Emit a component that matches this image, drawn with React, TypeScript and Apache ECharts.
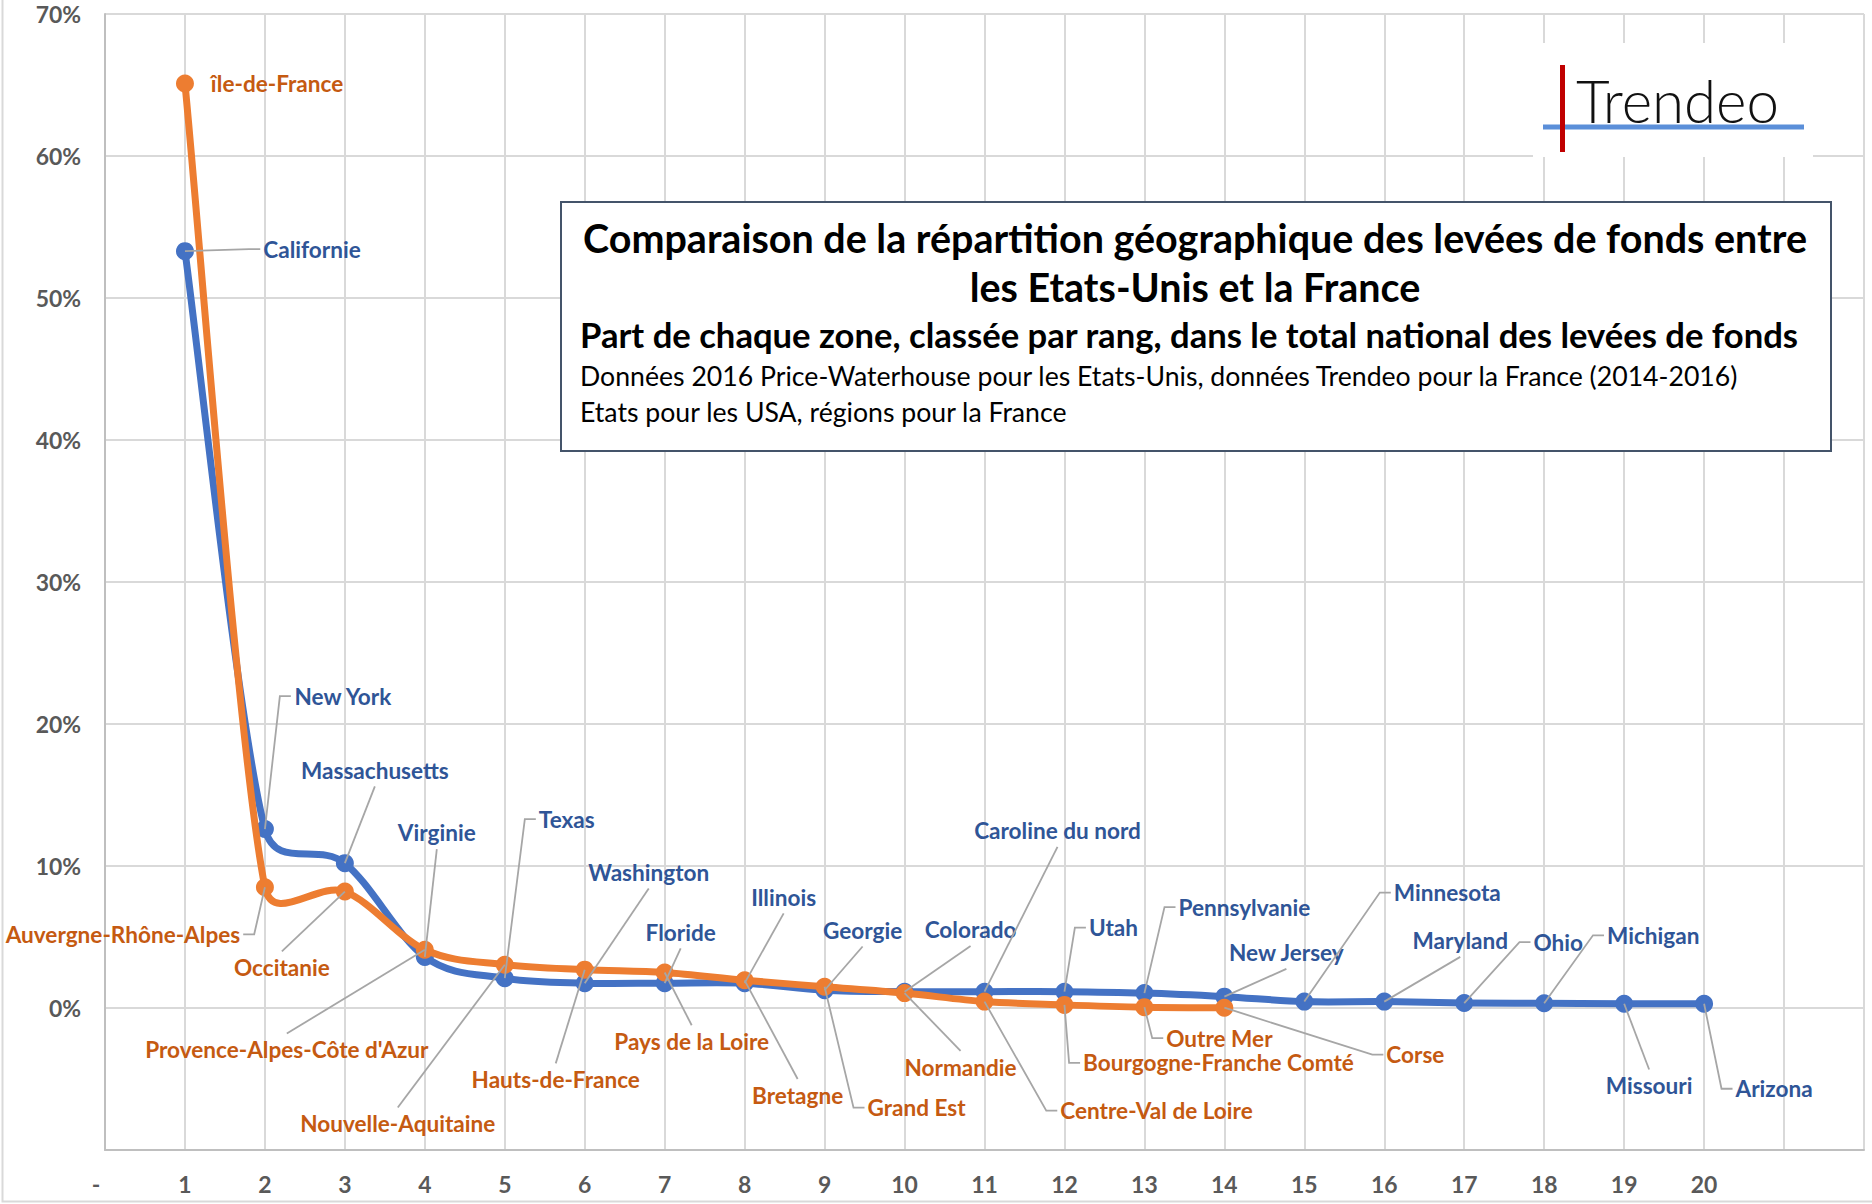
import React, { useEffect, useRef } from 'react';
import * as echarts from 'echarts';

const W = 1872;
const H = 1204;

// ---- data ----
const ranks = [1, 2, 3, 4, 5, 6, 7, 8, 9, 10, 11, 12, 13, 14, 15, 16, 17, 18, 19, 20];
const usStates = [
  'Californie', 'New York', 'Massachusetts', 'Virginie', 'Texas', 'Washington', 'Floride',
  'Illinois', 'Georgie', 'Colorado', 'Caroline du nord', 'Utah', 'Pennsylvanie', 'New Jersey',
  'Minnesota', 'Maryland', 'Ohio', 'Michigan', 'Missouri', 'Arizona',
];
const usShares = [53.3, 12.6, 10.2, 3.6, 2.1, 1.75, 1.75, 1.75, 1.25, 1.15, 1.15, 1.15, 1.05, 0.8, 0.45, 0.45, 0.35, 0.33, 0.3, 0.3];
const frRegions = [
  'île-de-France', 'Auvergne-Rhône-Alpes', 'Occitanie', "Provence-Alpes-Côte d'Azur",
  'Nouvelle-Aquitaine', 'Hauts-de-France', 'Pays de la Loire', 'Bretagne', 'Grand Est',
  'Normandie', 'Centre-Val de Loire', 'Bourgogne-Franche Comté', 'Outre Mer', 'Corse',
];
const frShares = [65.1, 8.5, 8.2, 4.1, 3.05, 2.7, 2.5, 1.95, 1.5, 1.05, 0.45, 0.22, 0.06, 0.02];
const xTickLabels = ['-', '1', '2', '3', '4', '5', '6', '7', '8', '9', '10', '11', '12', '13', '14', '15', '16', '17', '18', '19', '20', '', ''];
const yTickLabels = ['', '0%', '10%', '20%', '30%', '40%', '50%', '60%', '70%'];

const titleLines = [
  'Comparaison de la répartition géographique des levées de fonds entre',
  'les Etats-Unis et la France',
  'Part de chaque zone, classée par rang, dans le total national des levées de fonds',
  'Données 2016 Price-Waterhouse pour les Etats-Unis, données Trendeo pour la France (2014-2016)',
  'Etats pour les USA, régions pour la France',
];
const logoText = 'Trendeo';

// ---- label placement (pixel offsets from the point to the label centre) and leader attachment side ----
const usLabelOffsets: number[][] = [
  [127, -2], [78, -133], [30, -93], [12, -124], [62, -159], [64, -111], [16, -51],
  [39, -86], [38, -60], [66, -62], [73, -161], [49, -64], [100, -86], [62, -44],
  [143, -109], [76, -61], [94, -61], [109, -68], [25, 82], [70, 85],
];
const usLeaderSides = ['l', 'l', 'b', 'b', 'l', 'b', 'b', 'b', 'b', 'b', 'b', 'l', 'l', 'b', 'l', 'b', 'l', 'l', 't', 'l'];
const frLabelOffsets: number[][] = [
  [92, 0], [-142, 47], [-63, 76], [-138, 100], [-107, 159], [-29, 110], [27, 69],
  [53, 115], [92, 121], [56, 74], [172, 109], [154, 58], [75, 31], [191, 47],
];
const frLeaderSides = ['', 'r', 't', 't', 't', 't', 't', 't', 'l', 't', 'l', 'l', 'l', 'l'];

const BLUE = '#4472C4';
const ORANGE = '#ED7D31';
const BLUE_TXT = '#2F5597';
const ORANGE_TXT = '#C55A11';
const LEADER = '#A6A6A6';
const FONT = 'Lato, "Open Sans", sans-serif';

export default function App() {
  const ref = useRef<HTMLDivElement>(null);

  useEffect(() => {
    const el = ref.current as HTMLDivElement;
    const chart = echarts.init(el, null, { renderer: 'svg', width: W, height: H });

    const cvs = document.createElement('canvas');
    const ctx = cvs.getContext('2d') as CanvasRenderingContext2D;
    const fit = (texts: string[], target: number, weight: string | number) => {
      ctx.font = `${weight} 100px ${FONT}`;
      let w = 0;
      texts.forEach((t) => (w += ctx.measureText(t).width));
      return (100 * target) / w;
    };

    const lblSize = fit(['Californie', 'Massachusetts', "Provence-Alpes-Côte d'Azur", 'Bourgogne-Franche Comté'], 800, 'bold');
    const axisSize = fit(['70%', '20'], 72, 'bold');
    const t1Size = fit([titleLines[0]], 1224, 'bold');
    const t3Size = fit([titleLines[2]], 1219, 'bold');
    const t4Size = fit([titleLines[3]], 1160, 'normal');
    const logoSize = fit([logoText], 203, 300);

    const mkLayout = (offsets: number[][]) => (p: any) => {
      const o = offsets[p.dataIndex];
      return {
        x: p.rect.x + p.rect.width / 2 + o[0],
        y: p.rect.y + p.rect.height / 2 + o[1],
        align: 'center',
        verticalAlign: 'middle',
      };
    };

    const labelBase = {
      show: true,
      position: 'inside',
      formatter: '{b}',
      fontFamily: FONT,
      fontWeight: 'bold',
      fontSize: lblSize,
      textBorderWidth: 0,
      textBorderColor: 'transparent',
    };

    // Excel-like smoothed line: cubic Bezier segments through the points (via the chart's scales)
    const mkCurve = (name: string, shares: number[], color: string, z: number) => ({
      type: 'custom',
      name,
      coordinateSystem: 'cartesian2d',
      silent: true,
      z,
      data: shares.slice(0, -1).map((v, i) => [ranks[i], v]),
      encode: { x: 0, y: 1 },
      renderItem: (params: any, api: any) => {
        const i = params.dataIndex;
        const n = shares.length;
        const P = (k: number) => {
          const kk = Math.max(0, Math.min(n - 1, k));
          return api.coord([ranks[kk], shares[kk]]);
        };
        const p0 = P(i - 1);
        const p1 = P(i);
        const p2 = P(i + 1);
        const p3 = P(i + 2);
        const seg = Math.hypot(p2[0] - p1[0], p2[1] - p1[1]);
        const arm = (a: number[], b: number[]) => {
          const tx = b[0] - a[0];
          const ty = b[1] - a[1];
          const L = Math.hypot(tx, ty) || 1;
          const len = Math.min(L / 6, seg / 2);
          return [(tx / L) * len, (ty / L) * len];
        };
        const t1 = arm(p0, p2);
        const t2 = arm(p1, p3);
        return {
          type: 'bezierCurve',
          shape: {
            x1: p1[0], y1: p1[1], x2: p2[0], y2: p2[1],
            cpx1: p1[0] + t1[0], cpy1: p1[1] + t1[1],
            cpx2: p2[0] - t2[0], cpy2: p2[1] - t2[1],
          },
          style: { stroke: color, lineWidth: 7, fill: null, lineCap: 'round' },
        };
      },
    });

    const usData = usShares.map((v, i) => ({ name: usStates[i], value: [ranks[i], v] }));
    const frData = frShares.map((v, i) => ({ name: frRegions[i], value: [ranks[i], v] }));

    const baseGraphic: any[] = [
      {
        type: 'rect', z: 1, silent: true,
        shape: { x: 2.5, y: -5, width: W + 10, height: 1201.5 + 5 },
        style: { fill: 'none', stroke: '#D9D9D9', lineWidth: 2 },
      },
      {
        type: 'rect', z: 50, silent: true,
        shape: { x: 1533, y: 43, width: 280, height: 114 },
        style: { fill: '#ffffff' },
      },
      {
        type: 'line', z: 51,
        shape: { x1: 1543, y1: 127, x2: 1804, y2: 127 },
        style: { stroke: '#5B8FD9', lineWidth: 5 },
      },
      {
        type: 'rect', z: 52,
        shape: { x: 1560, y: 65, width: 5, height: 87 },
        style: { fill: '#C00000' },
      },
      {
        type: 'text', z: 52, x: 1576, y: 100,
        style: { text: logoText, fill: '#111111', font: `300 ${logoSize}px ${FONT}`, align: 'left', verticalAlign: 'middle' },
      },
      {
        type: 'rect', z: 50,
        shape: { x: 561, y: 202, width: 1270, height: 249 },
        style: { fill: '#ffffff', stroke: '#44546A', lineWidth: 2 },
      },
      {
        type: 'text', z: 51, x: 1195, y: 237,
        style: { text: titleLines[0], fill: '#000', font: `bold ${t1Size}px ${FONT}`, align: 'center', verticalAlign: 'middle' },
      },
      {
        type: 'text', z: 51, x: 1195, y: 286,
        style: { text: titleLines[1], fill: '#000', font: `bold ${t1Size}px ${FONT}`, align: 'center', verticalAlign: 'middle' },
      },
      {
        type: 'text', z: 51, x: 580, y: 334,
        style: { text: titleLines[2], fill: '#000', font: `bold ${t3Size}px ${FONT}`, align: 'left', verticalAlign: 'middle' },
      },
      {
        type: 'text', z: 51, x: 580, y: 376,
        style: { text: titleLines[3], fill: '#000', font: `normal ${t4Size}px ${FONT}`, align: 'left', verticalAlign: 'middle' },
      },
      {
        type: 'text', z: 51, x: 580, y: 412,
        style: { text: titleLines[4], fill: '#000', font: `normal ${t4Size}px ${FONT}`, align: 'left', verticalAlign: 'middle' },
      },
    ];

    const option: any = {
      animation: false,
      backgroundColor: '#ffffff',
      grid: { left: 105, right: 8, top: 14, bottom: 54, containLabel: false },
      xAxis: {
        type: 'value',
        min: 0,
        max: 22,
        interval: 1,
        axisLine: { show: true, onZero: false, lineStyle: { color: '#BFBFBF', width: 2 } },
        axisTick: { show: false },
        splitLine: { show: true, lineStyle: { color: '#D9D9D9', width: 2 } },
        axisLabel: {
          margin: 22,
          color: '#595959',
          fontFamily: FONT,
          fontWeight: 'bold',
          fontSize: axisSize,
          formatter: (v: number) => {
            const t = xTickLabels[Math.round(v)] ?? '';
            return Math.round(v) === 0 ? `{dash|${t}}` : t;
          },
          rich: { dash: { padding: [0, 18, 0, 0], color: '#595959', fontFamily: FONT, fontWeight: 'bold', fontSize: axisSize } },
        },
      },
      yAxis: {
        type: 'value',
        min: -10,
        max: 70,
        interval: 10,
        axisLine: { show: true, lineStyle: { color: '#BFBFBF', width: 2 } },
        axisTick: { show: false },
        splitLine: { show: true, lineStyle: { color: '#D9D9D9', width: 2 } },
        axisLabel: {
          margin: 24,
          color: '#595959',
          fontFamily: FONT,
          fontWeight: 'bold',
          fontSize: axisSize,
          formatter: (v: number) => yTickLabels[Math.round((v + 10) / 10)] ?? '',
        },
      },
      series: [
        mkCurve('Etats-Unis (courbe)', usShares, BLUE, 2),
        {
          type: 'line',
          name: 'Etats-Unis',
          data: usData,
          symbol: 'circle',
          symbolSize: 18,
          showSymbol: true,
          lineStyle: { color: BLUE, width: 0, opacity: 0 },
          itemStyle: { color: BLUE },
          label: { ...labelBase, color: BLUE_TXT },
          labelLayout: mkLayout(usLabelOffsets),
          z: 3,
        },
        mkCurve('France (courbe)', frShares, ORANGE, 4),
        {
          type: 'line',
          name: 'France',
          data: frData,
          symbol: 'circle',
          symbolSize: 18,
          showSymbol: true,
          lineStyle: { color: ORANGE, width: 0, opacity: 0 },
          itemStyle: { color: ORANGE },
          label: { ...labelBase, color: ORANGE_TXT },
          labelLayout: mkLayout(frLabelOffsets),
          z: 5,
        },
      ],
      graphic: baseGraphic,
    };

    chart.setOption(option);

    // ---- leader lines (Excel style), from each point (via the chart's scales) to its label ----
    ctx.font = `bold ${lblSize}px ${FONT}`;
    const vh = lblSize * 0.72;
    const leaders: any[] = [];
    const addLeaders = (names: string[], shares: number[], offsets: number[][], sides: string[]) => {
      shares.forEach((v, i) => {
        const side = sides[i];
        if (!side) return;
        const p = chart.convertToPixel({ gridIndex: 0 }, [ranks[i], v]) as number[];
        const [px, py] = p;
        const cx = px + offsets[i][0];
        const cy = py + offsets[i][1];
        const hw = ctx.measureText(names[i]).width / 2;
        const left = cx - hw;
        const right = cx + hw;
        let pts: number[][];
        if (side === 'l') pts = [[px, py], [left - 14, cy], [left - 3, cy]];
        else if (side === 'r') pts = [[px, py], [right + 14, cy], [right + 3, cy]];
        else if (side === 'b') pts = [[px, py], [cx, cy + vh]];
        else pts = [[px, py], [cx, cy - vh]];
        leaders.push({
          type: 'polyline',
          z: 7,
          silent: true,
          shape: { points: pts },
          style: { stroke: LEADER, lineWidth: 1.8, fill: 'none' },
        });
      });
    };
    addLeaders(usStates, usShares, usLabelOffsets, usLeaderSides);
    addLeaders(frRegions, frShares, frLabelOffsets, frLeaderSides);

    chart.setOption({ graphic: [...baseGraphic, ...leaders] });

    return () => chart.dispose();
  }, []);

  return (
    <div
      ref={ref}
      style={{ position: 'fixed', left: 0, top: 0, width: W, height: H, background: '#ffffff' }}
    />
  );
}
